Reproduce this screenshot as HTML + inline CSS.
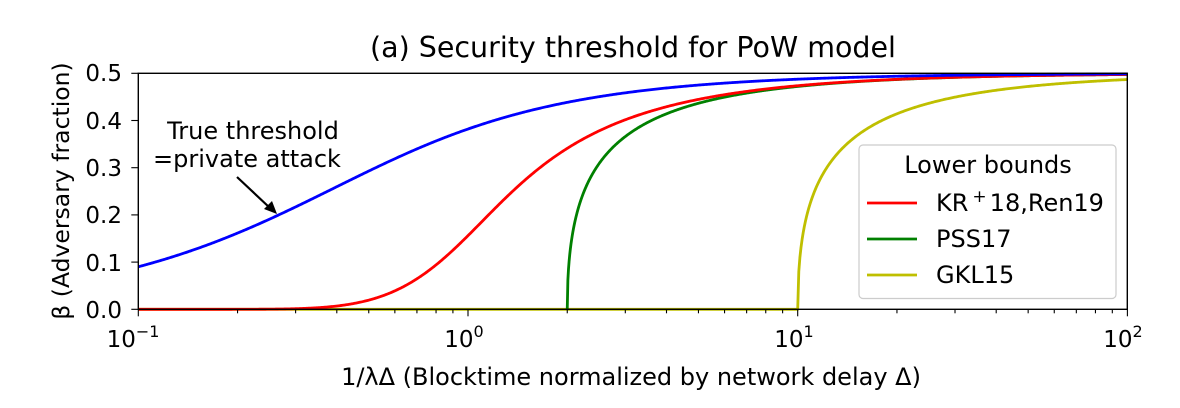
<!DOCTYPE html>
<html><head><meta charset="utf-8"><style>
html,body{margin:0;padding:0;background:#fff;}
svg{display:block;font-family:"DejaVu Sans","Liberation Sans",sans-serif;}
</style></head><body>
<svg id="s" width="1180" height="408" viewBox="0 0 1180 408" xmlns="http://www.w3.org/2000/svg">
<rect width="1180" height="408" fill="#fff"/>
<text x="633" y="57" font-size="28.5" text-anchor="middle">(a) Security threshold for PoW model</text>
<g id="curves" fill="none" stroke-width="2.8" stroke-linejoin="round"></g>
<rect x="138.3" y="73.3" width="989" height="236" fill="none" stroke="#000" stroke-width="1.4"/>
<g id="ticks" stroke="#000" stroke-width="1.1"></g>
<g font-size="23" text-anchor="end">
<text x="122" y="318">0.0</text><text x="122" y="271">0.1</text><text x="122" y="223">0.2</text>
<text x="122" y="176">0.3</text><text x="122" y="129">0.4</text><text x="122" y="81">0.5</text>
</g>
<g font-size="23" text-anchor="middle">
<text x="133" y="347">10<tspan dy="-10" font-size="16">−1</tspan></text>
<text x="464" y="347">10<tspan dy="-10" font-size="16">0</tspan></text>
<text x="794" y="347">10<tspan dy="-10" font-size="16">1</tspan></text>
<text x="1123" y="347">10<tspan dy="-10" font-size="16">2</tspan></text>
</g>
<text x="631" y="385" font-size="24" text-anchor="middle">1/λΔ (Blocktime normalized by network delay Δ)</text>
<text transform="translate(69,191) rotate(-90)" font-size="23.5" text-anchor="middle">β (Adversary fraction)</text>
<g font-size="24" text-anchor="middle">
<text x="253" y="139">True threshold</text>
<text x="247" y="167">=private attack</text>
</g>
<line x1="237" y1="177" x2="270" y2="208" stroke="#000" stroke-width="2.2"/>
<polygon points="277,214 264,209 272,201" fill="#000"/>
<rect x="859" y="145" width="257" height="153.5" rx="4" fill="#fff" fill-opacity="0.85" stroke="#ccc" stroke-width="1.2"/>
<text x="988" y="173" font-size="24" text-anchor="middle">Lower bounds</text>
<line x1="867" y1="203" x2="917" y2="203" stroke="#ff0000" stroke-width="2.8"/>
<line x1="867" y1="239" x2="917" y2="239" stroke="#008000" stroke-width="2.8"/>
<line x1="867" y1="275" x2="917" y2="275" stroke="#bfbf00" stroke-width="2.8"/>
<g font-size="24">
<text x="936" y="211">KR<tspan dx="4" dy="-9" font-size="17">+</tspan><tspan dx="3" dy="9">18,Ren19</tspan></text>
<text x="936" y="247">PSS17</text>
<text x="936" y="283">GKL15</text>
</g>
</svg>
<script>
(function(){
var L=138.3,D=329.7,Y0=309.3,S=472;
function px(x){return L+D*(Math.log10(x)+1);}
function py(b){return Y0-S*b;}
function solve(f){var lo=0,hi=0.5;for(var i=0;i<60;i++){var m=(lo+hi)/2;if(f(m)>0)lo=m;else hi=m;}return lo;}
function blue(x){return solve(function(b){var a=1-b;return a/(1+a/x)-b;});}
function red(x){return solve(function(b){var a=1-b;return a*Math.exp(-2*a/x)-b;});}
function bnd(k){return function(x){if(x<=k)return 0;return solve(function(b){var a=1-b;return a*(1-k*a/x)-b;});};}
function path(fn,x0,start){var d="",n=900;start=start||-1;for(var i=0;i<=n;i++){var lx=start+(2-start)*i/n;var x=Math.pow(10,lx);var nx=Math.pow(10,start+(2-start)*(i+1)/n);
d+=(d?"L":"M")+px(x).toFixed(2)+","+py(fn(x)).toFixed(2);
if(x0&&x<x0&&nx>x0){d+="L"+px(x0).toFixed(2)+","+py(0).toFixed(2);}}
return d;}
var g=document.getElementById("curves");
function add(d,c){var p=document.createElementNS("http://www.w3.org/2000/svg","path");p.setAttribute("d",d);p.setAttribute("stroke",c);g.appendChild(p);}
add(path(bnd(10),10),"#bfbf00");
add(path(bnd(2),2,Math.log10(2)),"#008000");
add(path(red),"#ff0000");
add(path(blue),"#0000ff");
var t=document.getElementById("ticks"),s="";
for(var dd=-1;dd<=2;dd++){for(var m=1;m<=9;m++){if(dd==2&&m>1)break;var x=px(m*Math.pow(10,dd));var len=m==1?7:4;
s+='<line x1="'+x+'" y1="309.3" x2="'+x+'" y2="'+(309.3+len)+'"/>';}}
for(var k=0;k<=5;k++){var y=py(k/10);s+='<line x1="131.3" y1="'+y+'" x2="138.3" y2="'+y+'"/>';}
t.innerHTML=s;
})();
</script>
</body></html>
